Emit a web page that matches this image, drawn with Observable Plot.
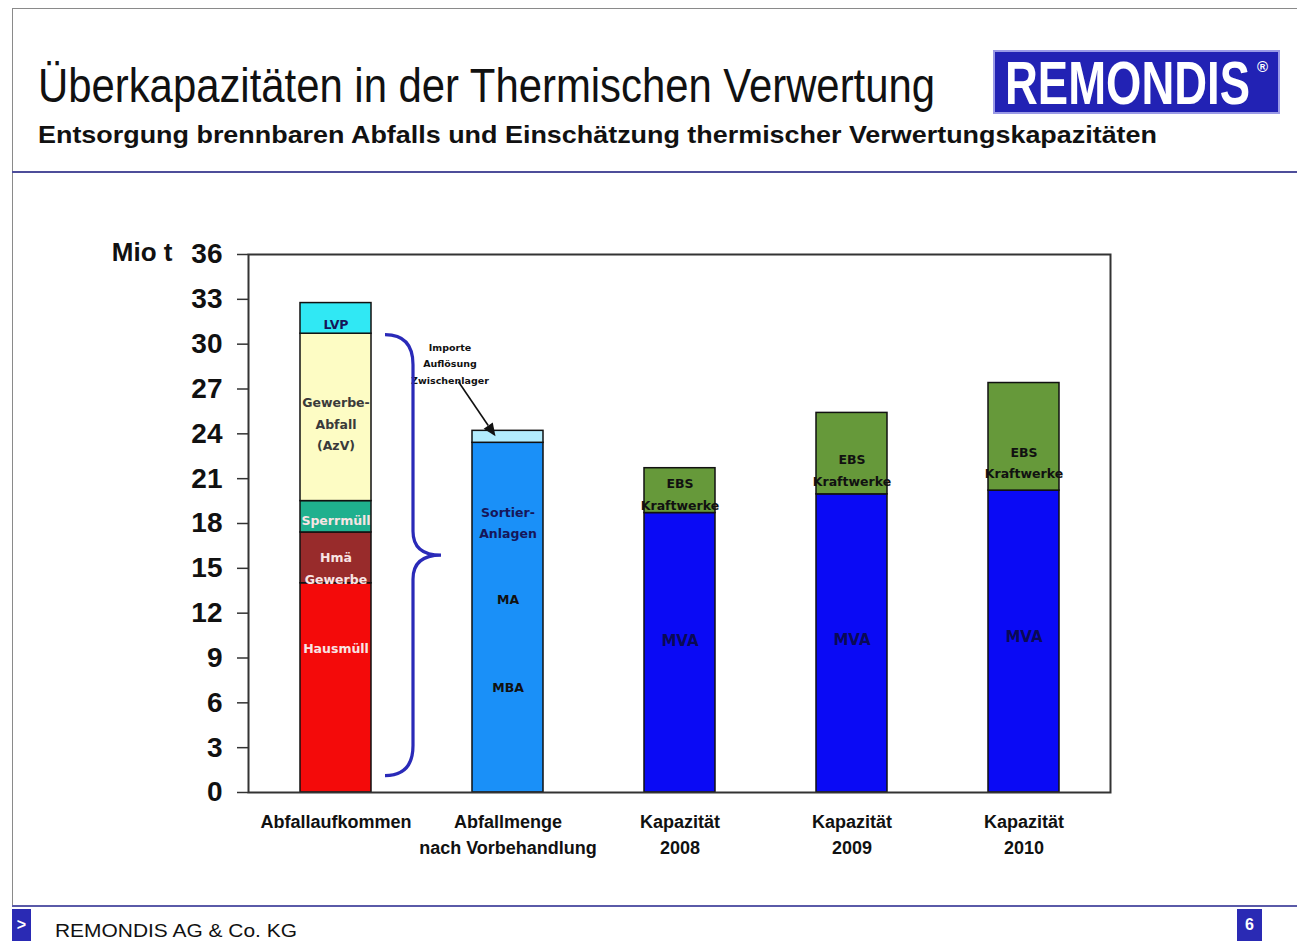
<!DOCTYPE html>
<html><head><meta charset="utf-8">
<script src="https://cdn.jsdelivr.net/npm/d3@7"></script>
<script src="https://cdn.jsdelivr.net/npm/@observablehq/plot@0.6"></script>
<style>
body{margin:0;background:#fff}
#page{position:relative;width:1297px;height:941px;overflow:hidden;font-family:"Liberation Sans",Arial,sans-serif;color:#111}
.abs{position:absolute;white-space:nowrap;line-height:1}
.fit{transform-origin:0 0}
</style></head><body>
<div id="page">
  <div class="abs" style="left:12px;top:8px;width:1285px;height:1px;background:#8a8a8a"></div>
  <div class="abs" style="left:12px;top:8px;width:1px;height:898px;background:#8a8a8a"></div>
  <div id="title" class="abs fit" data-w="897" style="left:38px;top:62px;font-size:48px">Überkapazitäten in der Thermischen Verwertung</div>
  <div id="subtitle" class="abs fit" data-w="1119" style="left:38px;top:123px;font-size:24px;font-weight:bold">Entsorgung brennbaren Abfalls und Einschätzung thermischer Verwertungskapazitäten</div>
  <div class="abs" style="left:995px;top:52px;width:283px;height:60px;background:#2222b4;box-shadow:0 0 0 2px #9a9ae6"></div>
  <div id="logo" class="abs fit" data-w="245" style="left:1005px;top:53px;font-size:61px;font-weight:bold;color:#fff">REMONDIS</div>
  <div class="abs" style="left:1257px;top:59px;font-size:15px;font-weight:bold;color:#fff">®</div>
  <div class="abs" style="left:12px;top:171px;width:1285px;height:2px;background:#4d4d9a"></div>
  <div id="chart" class="abs" style="left:0;top:200px"></div>
  <div class="abs" style="left:12px;top:905px;width:1285px;height:2px;background:#5a5aa8"></div>
  <div class="abs" style="left:12px;top:909px;width:19px;height:32px;background:#2a2ab4;color:#fff;font-weight:bold;font-size:16px;text-align:center;line-height:32px">&gt;</div>
  <div id="footer" class="abs fit" data-w="242" style="left:55px;top:921px;font-size:19px">REMONDIS AG &amp; Co. KG</div>
  <div class="abs" style="left:1237px;top:909px;width:25px;height:32px;background:#2a2ab4;color:#fff;font-weight:bold;font-size:16px;text-align:center;line-height:32px">6</div>
</div>
<script>
// ---- data ----
const categories = ["Abfallaufkommen", "Abfallmenge nach Vorbehandlung", "Kapazität 2008", "Kapazität 2009", "Kapazität 2010"];
const tickLabels = ["Abfallaufkommen", "Abfallmenge\nnach Vorbehandlung", "Kapazität\n2008", "Kapazität\n2009", "Kapazität\n2010"];
const yTicks = [0, 3, 6, 9, 12, 15, 18, 21, 24, 27, 30, 33, 36];
const yLabel = "Mio t";

const wasteSources = ["Hausmüll", "Hmä Gewerbe", "Sperrmüll", "Gewerbe-Abfall (AzV)", "LVP"];
const wasteAmounts = [14.0, 3.4, 2.1, 11.2, 2.05];

const pretreatedParts = ["Sortier-Anlagen / MA / MBA", "Importe / Auflösung Zwischenlager"];
const pretreatedAmounts = [23.4, 0.8];

const capacityParts = ["MVA", "EBS Kraftwerke"];
const mvaCapacity = [18.7, 19.95, 20.2];
const ebsCapacity = [3.0, 5.45, 7.2];

const disposalLevel = 24.0;          // dashed line
const braceSpan = [1.1, 30.6];       // curly bracket from/to (Mio t)
const importArrow = [27.45, 23.8];   // arrow from/to (Mio t)
const importNote = "Importe\nAuflösung\nZwischenlager";
const importNoteAt = 28.8;

const barLabels = [
  {bar: 0, text: "Hausmüll", at: 9.8, tone: "light"},
  {bar: 0, text: "Hmä\nGewerbe", at: 15.15, tone: "light"},
  {bar: 0, text: "Sperrmüll", at: 18.35, tone: "light"},
  {bar: 0, text: "Gewerbe-\nAbfall\n(AzV)", at: 24.8, tone: "gray"},
  {bar: 0, text: "LVP", at: 31.45, tone: "navy"},
  {bar: 1, text: "Sortier-\nAnlagen", at: 18.2, tone: "navy"},
  {bar: 1, text: "MA", at: 13.1, tone: "dark"},
  {bar: 1, text: "MBA", at: 7.2, tone: "dark"},
  {bar: 2, text: "EBS\nKraftwerke", at: 20.1, tone: "dark"},
  {bar: 3, text: "EBS\nKraftwerke", at: 21.7, tone: "dark"},
  {bar: 4, text: "EBS\nKraftwerke", at: 22.2, tone: "dark"}
];
const mvaLabels = [
  {bar: 2, text: "MVA", at: 10.1},
  {bar: 3, text: "MVA", at: 10.2},
  {bar: 4, text: "MVA", at: 10.4}
];

// ---- styles ----
const partColors = ["#f40a0a", "#982b2b", "#1fb08e", "#fdfcc4", "#30e8f4", "#1a90f8", "#b3ecfd", "#0a0af5", "#66993a"];
const toneColors = {light: "#f8e4e4", gray: "#3a3a3a", navy: "#16165a", dark: "#111111"};

// ---- build table ----
const segments = [
  ...wasteSources.map((part, i) => ({category: categories[0], part, amount: wasteAmounts[i]})),
  ...pretreatedParts.map((part, i) => ({category: categories[1], part, amount: pretreatedAmounts[i]})),
  ...categories.slice(2).flatMap((c, i) => [
    {category: c, part: capacityParts[0], amount: mvaCapacity[i]},
    {category: c, part: capacityParts[1], amount: ebsCapacity[i]}
  ])
];
const labelRows = barLabels.map(d => ({...d, category: categories[d.bar]}));
const mvaRows = mvaLabels.map(d => ({...d, category: categories[d.bar]}));

const bw = s => typeof s.bandwidth === "function" ? s.bandwidth() : s.bandwidth;

function braceMark(index, scales) {
  const x = scales.x, y = scales.y;
  const x0 = x(categories[0]) + bw(x);
  const a = x0 + 14, v = x0 + 42, t = x0 + 70;
  const yT = y(braceSpan[1]), yB = y(braceSpan[0]), yM = (yT + yB) / 2;
  const d = `M${a},${yT} Q${v},${yT} ${v},${yT + 30} L${v},${yM - 24} Q${v},${yM} ${t},${yM} Q${v},${yM} ${v},${yM + 24} L${v},${yB - 30} Q${v},${yB} ${a},${yB}`;
  const g = d3.create("svg:g");
  g.append("path").attr("d", d).attr("fill", "none").attr("stroke", "#2a2ab8").attr("stroke-width", 3.2);
  return g.node();
}
function arrowMark(index, scales) {
  const x = scales.x, y = scales.y;
  const cx = x(categories[1]) + bw(x) / 2;
  const x1 = cx - 49, y1 = y(importArrow[0]), x2 = cx - 12, y2 = y(importArrow[1]);
  const ang = Math.atan2(y2 - y1, x2 - x1), L = 13, W = 5.5;
  const bx = x2 - L * Math.cos(ang), by = y2 - L * Math.sin(ang);
  const px = -Math.sin(ang) * W, py = Math.cos(ang) * W;
  const g = d3.create("svg:g");
  g.append("line").attr("x1", x1).attr("y1", y1).attr("x2", bx).attr("y2", by).attr("stroke", "#111").attr("stroke-width", 1.6);
  g.append("path").attr("d", `M${x2},${y2} L${bx + px},${by + py} L${bx - px},${by - py} Z`).attr("fill", "#111");
  return g.node();
}

const inBarFont = "DejaVu Sans, Verdana, sans-serif";
const chart = Plot.plot({
  width: 1297,
  height: 680,
  marginLeft: 248,
  marginRight: 187,
  marginTop: 54,
  marginBottom: 88,
  style: {fontFamily: "Liberation Sans, Arial, sans-serif", background: "transparent", overflow: "visible", color: "#111"},
  x: {domain: categories, range: [249, 1109], paddingInner: 0.59, paddingOuter: 0.295},
  y: {domain: [0, 36]},
  color: {domain: [...wasteSources, ...pretreatedParts, ...capacityParts], range: partColors},
  marks: [
    Plot.barY(segments, {x: "category", y: "amount", fill: "part", stroke: "#111", strokeWidth: 1.5}),
    Plot.ruleY([{category: categories[1], y: disposalLevel}], {x1: "category", y: "y", insetLeft: 71, insetRight: 10, stroke: "#111", strokeWidth: 3, strokeDasharray: "14,9"}),
    ...Object.keys(toneColors).map(tone =>
      Plot.text(labelRows.filter(d => d.tone === tone), {x: "category", y: "at", text: "text", fill: toneColors[tone], fontFamily: inBarFont, fontWeight: "bold", fontSize: 12.5, lineHeight: 1.7})
    ),
    Plot.text(mvaRows, {x: "category", y: "at", text: "text", fill: "#0a0a55", fontFamily: inBarFont, fontWeight: "bold", fontSize: 15}),
    Plot.text([{category: categories[1], at: importNoteAt, text: importNote}], {x: "category", y: "at", text: "text", dx: -58, fill: "#111", fontFamily: inBarFont, fontWeight: "bold", fontSize: 9.5, lineHeight: 1.75}),
    braceMark,
    arrowMark,
    Plot.frame({stroke: "#333", strokeWidth: 2}),
    Plot.axisY({ticks: yTicks, tickSize: 11, tickPadding: 15, fontSize: 28, fontWeight: "bold", label: null, stroke: "#333", strokeWidth: 1.5}),
    Plot.axisX({tickSize: 0, tickPadding: 17, fontSize: 18, fontWeight: "bold", lineHeight: 1.44, label: null, tickFormat: (d, i) => tickLabels[categories.indexOf(d)]}),
    Plot.text([yLabel], {text: d => d, frameAnchor: "top-left", textAnchor: "end", lineAnchor: "middle", dx: -76, dy: -2, fontSize: 26, fontWeight: "bold"})
  ]
});
document.getElementById("chart").append(chart);

for (const el of document.querySelectorAll(".fit")) {
  const w = el.getBoundingClientRect().width;
  el.style.transform = `scaleX(${(+el.dataset.w) / w})`;
}
</script>
</body></html>
